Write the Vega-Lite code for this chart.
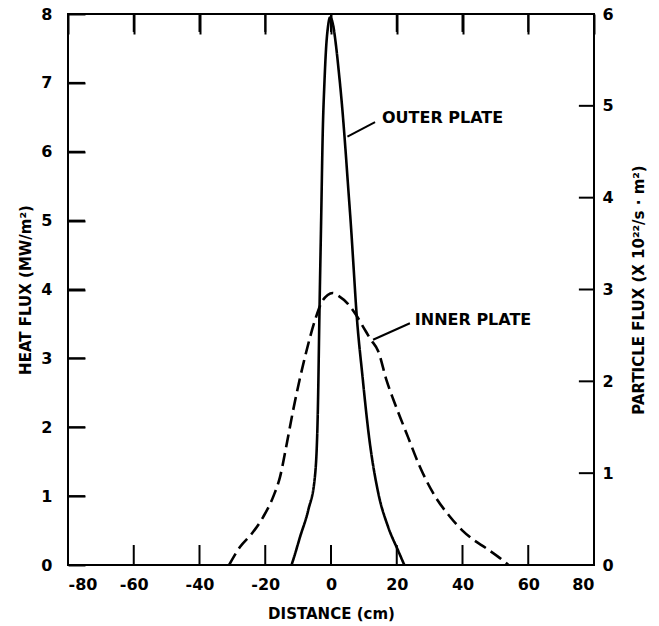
{
  "$schema": "https://vega.github.io/schema/vega-lite/v6.json",
  "width": 526,
  "height": 551,
  "autosize": "none",
  "padding": {"left": 68, "top": 14, "right": 65, "bottom": 61},
  "background": "white",
  "config": {
    "view": {"stroke": "black", "strokeWidth": 2},
    "font": "DejaVu Sans",
    "axis": {
      "domain": false,
      "ticks": false,
      "tickSize": 0,
      "grid": true,
      "gridColor": "black",
      "gridOpacity": 1,
      "gridWidth": 2,
      "labelColor": "black",
      "labelFont": "DejaVu Sans",
      "labelFontWeight": "bold",
      "labelFontSize": 16,
      "labelExpr": "'' + datum.value",
      "titleColor": "black",
      "titleFont": "DejaVu Sans",
      "titleFontWeight": "bold",
      "titleFontSize": 15
    }
  },
  "datasets": {
    "curves": [
      {"plate": "OUTER PLATE", "distance": -12, "heat": 0},
      {"plate": "OUTER PLATE", "distance": -11.2, "heat": 0.12},
      {"plate": "OUTER PLATE", "distance": -9.4, "heat": 0.41},
      {"plate": "OUTER PLATE", "distance": -6.9, "heat": 0.8},
      {"plate": "OUTER PLATE", "distance": -4.9, "heat": 1.28},
      {"plate": "OUTER PLATE", "distance": -4.0, "heat": 2.25},
      {"plate": "OUTER PLATE", "distance": -3.5, "heat": 3.7},
      {"plate": "OUTER PLATE", "distance": -3.0, "heat": 5.0},
      {"plate": "OUTER PLATE", "distance": -2.5, "heat": 6.3},
      {"plate": "OUTER PLATE", "distance": -2.0, "heat": 7.0},
      {"plate": "OUTER PLATE", "distance": -1.5, "heat": 7.5},
      {"plate": "OUTER PLATE", "distance": -0.9, "heat": 7.82},
      {"plate": "OUTER PLATE", "distance": -0.3, "heat": 7.95},
      {"plate": "OUTER PLATE", "distance": 0.6, "heat": 7.85},
      {"plate": "OUTER PLATE", "distance": 1.5, "heat": 7.55},
      {"plate": "OUTER PLATE", "distance": 2.4, "heat": 7.15},
      {"plate": "OUTER PLATE", "distance": 3.3, "heat": 6.7},
      {"plate": "OUTER PLATE", "distance": 4.3, "heat": 6.1},
      {"plate": "OUTER PLATE", "distance": 5.2, "heat": 5.5},
      {"plate": "OUTER PLATE", "distance": 6.1, "heat": 4.9},
      {"plate": "OUTER PLATE", "distance": 6.9, "heat": 4.3},
      {"plate": "OUTER PLATE", "distance": 7.7, "heat": 3.7},
      {"plate": "OUTER PLATE", "distance": 9.6, "heat": 2.73},
      {"plate": "OUTER PLATE", "distance": 11.6, "heat": 1.85},
      {"plate": "OUTER PLATE", "distance": 14.4, "heat": 1.04},
      {"plate": "OUTER PLATE", "distance": 17.4, "heat": 0.55},
      {"plate": "OUTER PLATE", "distance": 20.5, "heat": 0.2},
      {"plate": "OUTER PLATE", "distance": 22.3, "heat": 0},
      {"plate": "INNER PLATE", "distance": -31, "heat": 0},
      {"plate": "INNER PLATE", "distance": -27.7, "heat": 0.26},
      {"plate": "INNER PLATE", "distance": -24, "heat": 0.46},
      {"plate": "INNER PLATE", "distance": -20.6, "heat": 0.7},
      {"plate": "INNER PLATE", "distance": -17.5, "heat": 1.0},
      {"plate": "INNER PLATE", "distance": -15.5, "heat": 1.28},
      {"plate": "INNER PLATE", "distance": -13.5, "heat": 1.75},
      {"plate": "INNER PLATE", "distance": -11.5, "heat": 2.25},
      {"plate": "INNER PLATE", "distance": -9.5, "heat": 2.7},
      {"plate": "INNER PLATE", "distance": -7.5, "heat": 3.1},
      {"plate": "INNER PLATE", "distance": -4.9, "heat": 3.55},
      {"plate": "INNER PLATE", "distance": -3, "heat": 3.8},
      {"plate": "INNER PLATE", "distance": -1, "heat": 3.92},
      {"plate": "INNER PLATE", "distance": 0.5, "heat": 3.95},
      {"plate": "INNER PLATE", "distance": 2.5, "heat": 3.9},
      {"plate": "INNER PLATE", "distance": 5, "heat": 3.8},
      {"plate": "INNER PLATE", "distance": 7.5, "heat": 3.64},
      {"plate": "INNER PLATE", "distance": 10, "heat": 3.44},
      {"plate": "INNER PLATE", "distance": 12, "heat": 3.28},
      {"plate": "INNER PLATE", "distance": 14.4, "heat": 3.1},
      {"plate": "INNER PLATE", "distance": 16.9, "heat": 2.68},
      {"plate": "INNER PLATE", "distance": 18.9, "heat": 2.41},
      {"plate": "INNER PLATE", "distance": 21, "heat": 2.15},
      {"plate": "INNER PLATE", "distance": 23.4, "heat": 1.86},
      {"plate": "INNER PLATE", "distance": 27, "heat": 1.43},
      {"plate": "INNER PLATE", "distance": 31, "heat": 1.05},
      {"plate": "INNER PLATE", "distance": 36.2, "heat": 0.7},
      {"plate": "INNER PLATE", "distance": 40, "heat": 0.5},
      {"plate": "INNER PLATE", "distance": 43.2, "heat": 0.37},
      {"plate": "INNER PLATE", "distance": 47, "heat": 0.25},
      {"plate": "INNER PLATE", "distance": 51.4, "heat": 0.1},
      {"plate": "INNER PLATE", "distance": 54, "heat": 0}
    ],
    "leaders": [
      {"plate": "OUTER PLATE", "x1": 5.0, "y1": 6.22, "x2": 13.4, "y2": 6.43},
      {"plate": "INNER PLATE", "x1": 12.8, "y1": 3.27, "x2": 24, "y2": 3.51}
    ],
    "labels": [
      {"plate": "OUTER PLATE", "distance": 15.5, "heat": 6.49},
      {"plate": "INNER PLATE", "distance": 25.5, "heat": 3.56}
    ],
    "xTicks": [
      {"distance": -60}, {"distance": -40}, {"distance": -20}, {"distance": 0},
      {"distance": 20}, {"distance": 40}, {"distance": 60}
    ],
    "heatTicks": [
      {"heat": 1}, {"heat": 2}, {"heat": 3}, {"heat": 4}, {"heat": 5}, {"heat": 6}, {"heat": 7}
    ],
    "particleTicks": [
      {"particle": 1}, {"particle": 2}, {"particle": 3}, {"particle": 4}, {"particle": 5}
    ],
    "particleRange": [
      {"distance": -80, "particle": 0},
      {"distance": 80, "particle": 6}
    ]
  },
  "layer": [
    {
      "layer": [
        {
          "data": {"name": "curves"},
          "mark": {"type": "line", "interpolate": "monotone", "strokeWidth": 2.6, "color": "black"},
          "encoding": {
            "x": {
              "field": "distance", "type": "quantitative",
              "scale": {"domain": [-80, 80], "nice": false},
              "axis": {"orient": "bottom", "values": [-80, -60, -40, -20, 0, 20, 40, 60, 80], "gridDash": [20, 2000], "labelPadding": 11, "title": "DISTANCE (cm)", "titlePadding": 14}
            },
            "y": {
              "field": "heat", "type": "quantitative",
              "scale": {"domain": [0, 8], "nice": false},
              "axis": {"orient": "left", "values": [0, 1, 2, 3, 4, 5, 6, 7, 8], "gridDash": [17, 2000], "labelPadding": 16, "title": "HEAT FLUX (MW/m²)", "titlePadding": 7}
            },
            "strokeDash": {
              "field": "plate", "type": "nominal",
              "scale": {"domain": ["OUTER PLATE", "INNER PLATE"], "range": [[1, 0], [13, 6]]},
              "legend": null
            }
          }
        },
        {
          "data": {"name": "xTicks"},
          "mark": {"type": "rule", "strokeWidth": 2, "color": "black"},
          "encoding": {
            "x": {"field": "distance", "type": "quantitative"},
            "y": {"datum": 0},
            "y2": {"datum": 0.29}
          }
        },
        {
          "data": {"name": "xTicks"},
          "mark": {"type": "tick", "orient": "vertical", "size": 18, "thickness": 2, "color": "black", "opacity": 1},
          "encoding": {
            "x": {"field": "distance", "type": "quantitative"},
            "y": {"datum": 7.87}
          }
        },
        {
          "data": {"name": "heatTicks"},
          "mark": {"type": "rule", "strokeWidth": 2, "color": "black"},
          "encoding": {
            "y": {"field": "heat", "type": "quantitative"},
            "x": {"datum": -80},
            "x2": {"datum": -74.8}
          }
        },
        {
          "data": {"name": "leaders"},
          "mark": {"type": "rule", "strokeWidth": 2, "color": "black"},
          "encoding": {
            "x": {"field": "x1", "type": "quantitative"},
            "y": {"field": "y1", "type": "quantitative"},
            "x2": {"field": "x2"},
            "y2": {"field": "y2"}
          }
        },
        {
          "data": {"name": "labels"},
          "mark": {"type": "text", "align": "left", "baseline": "middle", "font": "DejaVu Sans", "fontWeight": "bold", "fontSize": 16, "color": "black"},
          "encoding": {
            "x": {"field": "distance", "type": "quantitative"},
            "y": {"field": "heat", "type": "quantitative"},
            "text": {"field": "plate"}
          }
        }
      ]
    },
    {
      "layer": [
        {
          "data": {"name": "particleRange"},
          "mark": {"type": "point", "opacity": 0},
          "encoding": {
            "x": {
              "field": "distance", "type": "quantitative",
              "axis": {"orient": "top", "values": [-60, -40, -20, 0, 20, 40, 60], "labels": false, "gridDash": [18, 2000], "title": null}
            },
            "y": {
              "field": "particle", "type": "quantitative",
              "scale": {"domain": [0, 6], "nice": false},
              "axis": {"orient": "right", "values": [0, 1, 2, 3, 4, 5, 6], "gridDash": [15, 2000], "labelPadding": 8, "title": "PARTICLE FLUX (X 10²²/s · m²)", "titleAngle": 270, "titlePadding": 33}
            }
          }
        },
        {
          "data": {"name": "particleTicks"},
          "mark": {"type": "rule", "strokeWidth": 2, "color": "black"},
          "encoding": {
            "y": {"field": "particle", "type": "quantitative"},
            "x": {"datum": 80},
            "x2": {"datum": 75.4}
          }
        }
      ]
    }
  ],
  "resolve": {"scale": {"y": "independent"}, "axis": {"x": "independent", "y": "independent"}}
}
